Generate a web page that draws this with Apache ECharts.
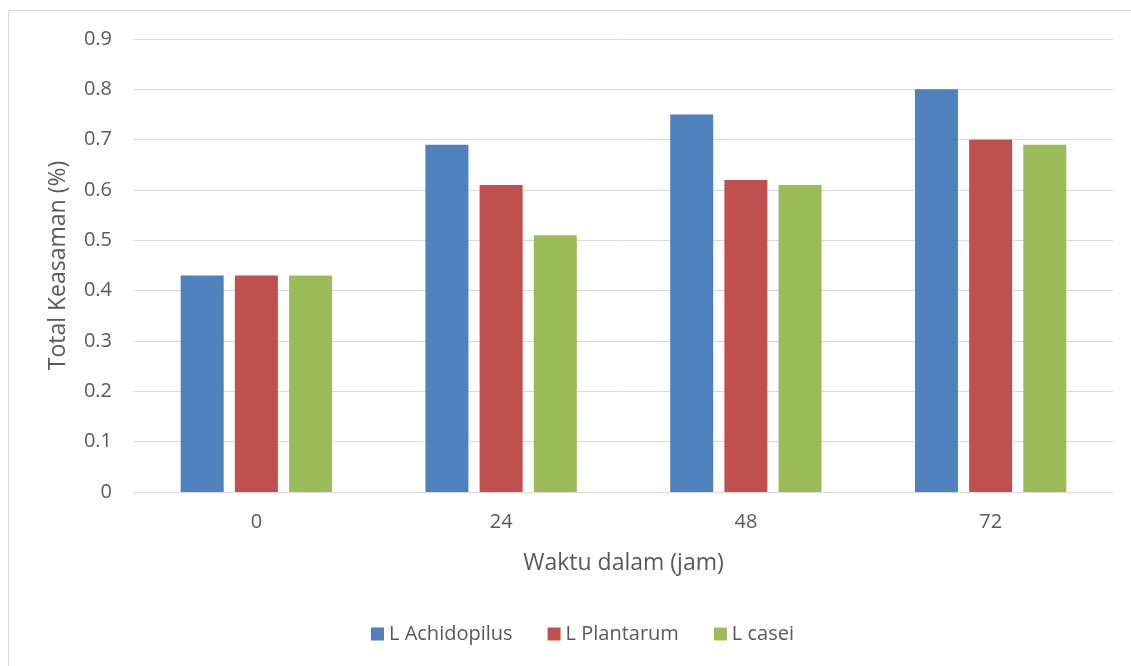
<!DOCTYPE html>
<html>
<head>
<meta charset="utf-8">
<script src="https://cdn.jsdelivr.net/npm/echarts@6/dist/echarts.min.js"></script>
<style>
  html, body { margin: 0; padding: 0; background: #fff; }
  #chart { width: 1131px; height: 666px; }
</style>
</head>
<body>
<div id="chart"></div>
<script>
const categories = ['0', '24', '48', '72']
const achidopilus = [0.43, 0.69, 0.75, 0.80]
const plantarum = [0.43, 0.61, 0.62, 0.70]
const casei = [0.43, 0.51, 0.61, 0.69]

const font = '"Open Sans", "Noto Sans", sans-serif'
const textColor = '#595959'

const myChart = echarts.init(document.getElementById('chart'))

const bar = (name, data, color) => ({
  name,
  type: 'bar',
  data,
  barWidth: 43,
  barGap: '26%',
  itemStyle: { color },
})

const option = {
  animation: false,
  textStyle: { fontFamily: font },
  graphic: [
    {
      type: 'rect',
      shape: { x: 8.5, y: 10.5, width: 1140, height: 700 },
      style: { fill: 'none', stroke: '#d9d9d9', lineWidth: 1 },
      silent: true,
    },
  ],
  grid: {
    left: 134,
    right: 18,
    top: 39,
    bottom: 174,
  },
  legend: {
    bottom: 17,
    left: 366,
    itemWidth: 13,
    itemHeight: 13,
    itemGap: 35,
    icon: 'rect',
    textStyle: { color: textColor, fontSize: 20, fontFamily: font },
    data: ['L Achidopilus', 'L Plantarum', 'L casei'],
  },
  xAxis: {
    type: 'category',
    data: categories,
    name: 'Waktu dalam (jam)',
    nameLocation: 'middle',
    nameGap: 60,
    nameTextStyle: { color: textColor, fontSize: 23, fontFamily: font },
    axisLine: { lineStyle: { color: '#d9d9d9', width: 1 } },
    axisTick: { show: false },
    axisLabel: { color: textColor, fontSize: 20, margin: 20, fontFamily: font },
  },
  yAxis: {
    type: 'value',
    min: 0,
    max: 0.9,
    interval: 0.1,
    name: 'Total Keasaman (%)',
    nameLocation: 'middle',
    nameGap: 64,
    nameTextStyle: { color: textColor, fontSize: 23, fontFamily: font },
    axisLine: { show: false },
    axisTick: { show: false },
    axisLabel: {
      color: textColor,
      fontSize: 20,
      margin: 22,
      fontFamily: font,
      formatter: (v) => (v === 0 ? '0' : v.toFixed(1)),
    },
    splitLine: { lineStyle: { color: '#d9d9d9', width: 1 } },
  },
  series: [
    bar('L Achidopilus', achidopilus, '#4F81BD'),
    bar('L Plantarum', plantarum, '#C0504D'),
    bar('L casei', casei, '#9BBB59'),
  ],
}

myChart.setOption(option)
</script>
</body>
</html>
